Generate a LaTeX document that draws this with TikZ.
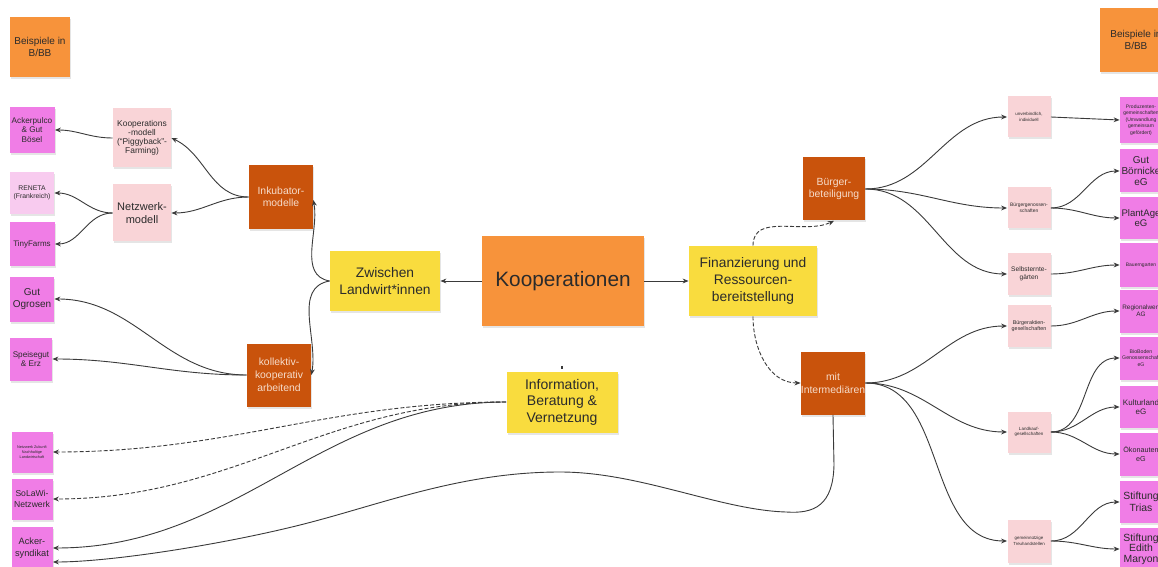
\documentclass[tikz,border=0pt]{standalone}
\usepackage{fontspec}
\setmainfont{Liberation Sans}
\usetikzlibrary{arrows.meta,shadows,calc}
\definecolor{orng}{HTML}{F7933B}
\definecolor{dorng}{HTML}{C9530C}
\definecolor{yel}{HTML}{F9DC3E}
\definecolor{lpink}{HTML}{F9D4D7}
\definecolor{mag}{HTML}{F07DE6}
\definecolor{lmag}{HTML}{F8CBEF}
\definecolor{txt}{HTML}{2B2B2B}
\definecolor{ltxt}{HTML}{F6DCCB}
\definecolor{ln}{HTML}{3A3A3A}
\newcommand\fz[2]{\fontsize{#1}{#2}\selectfont}
\begin{document}
\begin{tikzpicture}[x=0.5pt,y=-0.5pt,
  note/.style={draw=none, inner sep=0pt, align=center, text=txt,
    drop shadow={shadow xshift=0.5pt, shadow yshift=-1pt, opacity=0.2}},
  sz/.style 2 args={minimum width=#1*0.5pt, minimum height=#2*0.5pt},
  orangebox/.style={note, fill=orng},
  darkbox/.style={note, fill=dorng, text=ltxt},
  yellowbox/.style={note, fill=yel},
  pinkbox/.style={note, fill=lpink},
  magbox/.style={note, fill=mag},
  lmagbox/.style={note, fill=lmag},
  conn/.style={draw=ln, line width=0.45pt, -{Stealth[length=3pt,width=2.4pt]}},
  dconn/.style={conn, dash pattern=on 2pt off 1pt}
]
\fill[white] (0,0) rectangle (1158,567);
\useasboundingbox (0,0) rectangle (1158,567);

% ---------- left side ----------
\node[orangebox, sz={60}{60}, font=\fz{5}{6.3}] (bspL) at (40,47) {Beispiele in\\B/BB};
\node[magbox, sz={45}{46}, font=\fz{4.1}{4.6}] (ackerpulco) at (32,130) {Ackerpulco\\\& Gut\\Bösel};
\node[pinkbox, sz={58}{59}, font=\fz{4.2}{4.6}] (koopmodell) at (142,138) {Kooperations\\-modell\\(``Piggyback''-\\Farming)};
\node[lmagbox, sz={44}{42}, font=\fz{3.4}{3.9}] (reneta) at (32,193) {RENETA\\(Frankreich)};
\node[pinkbox, sz={58}{57}, font=\fz{5.5}{6.7}] (netzmodell) at (142,213) {Netzwerk-\\modell};
\node[magbox, sz={45}{44}, font=\fz{4}{4.6}] (tinyfarms) at (32,244) {TinyFarms};
\node[darkbox, sz={64}{64}, font=\fz{5.2}{5.9}] (inkubator) at (281,197) {Inkubator-\\modelle};
\node[magbox, sz={44}{45}, font=\fz{5}{5.6}] (ogrosen) at (32,299) {Gut\\Ogrosen};
\node[magbox, sz={42}{43}, font=\fz{4.1}{4.6}] (speisegut) at (31,359) {Speisegut\\\& Erz};
\node[darkbox, sz={64}{63}, font=\fz{5.2}{6.4}] (kollektiv) at (279,375) {kollektiv-\\kooperativ\\arbeitend};
\node[magbox, sz={41}{41}, font=\fz{1.9}{2.5}] (netzN) at (32,452) {Netzwerk Zukunft\\Nachhaltige\\Landwirtschaft};
\node[magbox, sz={41}{41}, font=\fz{4.3}{5.5}] (solawi) at (32,499) {SoLaWi-\\Netzwerk};
\node[magbox, sz={41}{42}, font=\fz{4.6}{5.8}] (acker) at (32,548) {Acker-\\syndikat};

% ---------- centre ----------
\node[yellowbox, sz={110}{60}, font=\fz{6.9}{8.3}] (zwischen) at (385,281) {Zwischen\\Landwirt*innen};
\node[orangebox, sz={162}{89}, font=\fz{10.4}{12}] (koop) at (563,281) {Kooperationen};
\node[yellowbox, sz={128}{70}, font=\fz{6.9}{8.3}] (finanz) at (753,281) {Finanzierung und\\Ressourcen-\\bereitstellung};
\node[yellowbox, sz={111}{61}, font=\fz{7}{8.3}] (info) at (562,402) {Information,\\Beratung \&\\Vernetzung};
\node[darkbox, sz={62}{63}, font=\fz{5.2}{5.9}] (buerger) at (834,189) {Bürger-\\beteiligung};
\node[darkbox, sz={64}{63}, font=\fz{5.2}{6.5}] (intermed) at (833,383) {mit\\Intermediären};

% ---------- right side ----------
\node[orangebox, sz={72}{64}, font=\fz{5}{6.3}] (bspR) at (1136,40) {Beispiele in\\B/BB};
\node[pinkbox, sz={43}{41}, font=\fz{2.2}{2.7}] (unverb) at (1029,117) {unverbindlich,\\individuell};
\node[pinkbox, sz={43}{41}, font=\fz{2.45}{3}] (bgen) at (1029,208) {Bürgergenossen-\\schaften};
\node[pinkbox, sz={43}{42}, font=\fz{3.3}{4}] (selbst) at (1029,274) {Selbsternte-\\gärten};
\node[pinkbox, sz={43}{42}, font=\fz{2.7}{3.3}] (baktien) at (1029,326) {Bürgeraktien-\\gesellschaften};
\node[pinkbox, sz={43}{41}, font=\fz{2.25}{2.8}] (landkauf) at (1029,432) {Landkauf-\\gesellschaften};
\node[pinkbox, sz={43}{43}, font=\fz{2.2}{2.8}] (gemein) at (1029,541) {gemeinnützige\\Treuhandstellen};

\node[magbox, sz={42}{46}, font=\fz{2.5}{3.2}] (produz) at (1141,120) {Produzenten-\\gemeinschaften\\(Umwandlung\\gemeinsam\\gefördert)};
\node[magbox, sz={42}{43}, font=\fz{5}{5.3}] (boernicke) at (1141,171) {Gut\\Börnicke\\eG};
\node[magbox, sz={42}{42}, font=\fz{4.8}{5.2}] (plantage) at (1141,218) {PlantAge\\eG};
\node[magbox, sz={42}{43}, font=\fz{2.5}{3}] (bauern) at (1141,265) {Bauerngarten};
\node[magbox, sz={42}{43}, font=\fz{3.2}{3.4}] (regional) at (1141,311) {Regionalwert\\AG};
\node[magbox, sz={42}{43}, font=\fz{2.6}{3.2}] (bioboden) at (1141,358) {BioBoden\\Genossenschaft\\eG};
\node[magbox, sz={42}{42}, font=\fz{4}{4.6}] (kulturland) at (1141,407) {Kulturland\\eG};
\node[magbox, sz={42}{43}, font=\fz{3.6}{4.4}] (oekonauten) at (1141,454) {Ökonauten\\eG};
\node[magbox, sz={42}{42}, font=\fz{5.2}{5.9}] (trias) at (1141,502) {Stiftung\\Trias};
\node[magbox, sz={42}{42}, font=\fz{5.2}{5.3}] (edith) at (1141,549) {Stiftung\\Edith\\Maryon};

% ---------- connectors ----------
\draw[conn] (koop.west) -- (zwischen.east);
\draw[conn] (koop.east) -- (finanz.west);
\draw[conn] (zwischen.west) to[out=170,in=-80] ([yshift=-1.5pt]inkubator.east);
\draw[conn] (zwischen.west) to[out=190,in=80] (kollektiv.east);
\draw[conn] (inkubator.west) to[out=180,in=-25] (koopmodell.east);
\draw[conn] (inkubator.west) to[out=180,in=0] (netzmodell.east);
\draw[conn] (koopmodell.west) to[out=180,in=0] (ackerpulco.east);
\draw[conn] (netzmodell.west) to[out=180,in=0] (reneta.east);
\draw[conn] (netzmodell.west) to[out=180,in=0] (tinyfarms.east);
\draw[conn] (kollektiv.west) to[out=180,in=0] (ogrosen.east);
\draw[conn] (kollektiv.west) to[out=180,in=0] (speisegut.east);

\draw[dconn] (info.west) to[out=180,in=0] (netzN.east);
\draw[dconn] (info.west) to[out=180,in=0] (solawi.east);
\draw[conn] (info.west) to[out=180,in=0] (acker.east);
\draw[conn] (intermed.south) -- (834,465) .. controls (833,505) and (815,514) .. (786,512)
   .. controls (720,510) and (640,472) .. (560,472)
   .. controls (460,472) and (380,505) .. (300,525)
   .. controls (220,545) and (110,562) .. ([yshift=-7pt]acker.east);
\draw[ln, line width=0.6pt] ([yshift=2.6pt]info.north) -- ([yshift=1.2pt]info.north);

\draw[dconn] (finanz.north) to[out=90,in=-155] (buerger.south);
\draw[dconn] (finanz.south) to[out=-90,in=180] (intermed.west);

\draw[conn] (buerger.east) to[out=0,in=180] (unverb.west);
\draw[conn] (buerger.east) to[out=0,in=180] (bgen.west);
\draw[conn] (buerger.east) to[out=0,in=180] (selbst.west);
\draw[conn] (intermed.east) to[out=0,in=180] (baktien.west);
\draw[conn] (intermed.east) to[out=0,in=180] (landkauf.west);
\draw[conn] (intermed.east) to[out=0,in=180] (gemein.west);

\draw[conn] (unverb.east) -- (produz.west);
\draw[conn] (bgen.east) to[out=0,in=180] (boernicke.west);
\draw[conn] (bgen.east) to[out=0,in=180] (plantage.west);
\draw[conn] (selbst.east) to[out=0,in=180] (bauern.west);
\draw[conn] (baktien.east) to[out=0,in=180] (regional.west);
\draw[conn] (landkauf.east) to[out=0,in=180] (bioboden.west);
\draw[conn] (landkauf.east) to[out=0,in=180] (kulturland.west);
\draw[conn] (landkauf.east) to[out=0,in=180] (oekonauten.west);
\draw[conn] (gemein.east) to[out=0,in=180] (trias.west);
\draw[conn] (gemein.east) to[out=0,in=180] (edith.west);
\end{tikzpicture}
\end{document}
